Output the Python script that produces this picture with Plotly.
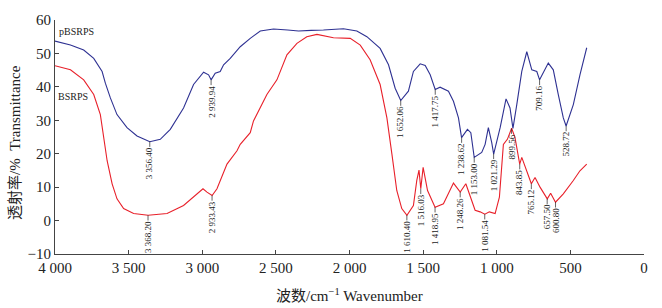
import numpy as np
import plotly.graph_objects as go

# ---- data ----
blue_x = [4000, 3895, 3805, 3737, 3680, 3658, 3624, 3579, 3511, 3443, 3356, 3285, 3217, 3127,
          3059, 2991, 2957, 2940, 2912, 2878, 2855, 2810, 2742, 2674, 2606, 2516, 2420, 2346,
          2260, 2177, 2041, 1950, 1882, 1792, 1735, 1690, 1652, 1600, 1566, 1520, 1486, 1452,
          1418, 1385, 1328, 1294, 1260, 1239, 1199, 1176, 1153, 1102, 1079, 1057, 1034, 1021,
          977, 937, 910, 890, 864, 830, 796, 762, 728, 709, 650, 616, 582, 548, 529, 480, 435, 389]
blue_y = [53.7, 52.5, 51.0, 48.5, 44.6, 41.1, 36.7, 31.7, 27.8, 25.3, 23.6, 24.3, 27.3, 33.7,
          40.7, 44.4, 43.6, 42.1, 44.1, 44.6, 46.6, 48.5, 52.0, 54.5, 56.7, 57.3, 57.0, 56.7,
          56.9, 57.0, 57.4, 56.7, 55.0, 51.5, 46.6, 39.6, 35.9, 38.7, 44.6, 46.9, 46.4, 43.6,
          39.2, 39.9, 38.7, 35.7, 30.7, 24.8, 27.3, 26.3, 18.9, 20.4, 22.8, 27.8, 23.3, 19.9,
          27.8, 36.4, 33.7, 27.6, 34.7, 44.6, 50.5, 45.1, 44.6, 42.1, 47.1, 45.1, 37.7, 30.7, 28.3, 34.7, 43.6, 51.7]

red_x = [4000, 3895, 3805, 3737, 3692, 3669, 3646, 3612, 3579, 3534, 3466, 3368, 3239, 3127,
         3036, 2995, 2968, 2933, 2900, 2832, 2764, 2742, 2674, 2652, 2561, 2493, 2425, 2357,
         2290, 2221, 2109, 1995, 1927, 1860, 1792, 1746, 1712, 1679, 1645, 1610, 1566, 1543,
         1528, 1516, 1500, 1470, 1419, 1362, 1294, 1248, 1210, 1181, 1147, 1113, 1081, 1050,
         1011, 982, 955, 928, 899, 876, 844, 830, 796, 765, 740, 706, 657, 634, 601, 548, 480, 435, 389]
red_y = [46.3, 45.1, 42.1, 37.7, 31.7, 24.8, 17.9, 11.0, 6.5, 3.6, 2.1, 1.6, 2.1, 4.5,
         8.0, 9.5, 8.5, 7.5, 9.5, 16.9, 20.9, 22.8, 26.3, 29.8, 37.7, 42.1, 49.6, 53.0,
         55.0, 55.7, 54.7, 54.5, 52.5, 48.1, 40.7, 30.7, 19.9, 9.0, 3.6, 1.6, 4.5, 12.0,
         15.1, 9.5, 15.9, 9.0, 4.0, 5.0, 11.2, 8.5, 11.0, 7.5, 3.1, 2.6, 1.9, 2.6,
         2.1, 7.0, 22.8, 24.3, 27.6, 24.8, 16.9, 18.9, 14.9, 11.0, 12.9, 10.0, 6.5, 8.2, 5.5, 8.0, 12.0, 14.9, 16.9]

blue_peaks = [3356.40, 2939.94, 1652.06, 1417.75, 1238.62, 1153.00, 1021.29, 709.16, 528.72]
red_peaks = [3368.20, 2933.43, 1610.40, 1516.03, 1418.95, 1248.26, 1081.54, 899.56, 843.85,
             765.12, 657.50, 600.80]

x_ticks = [4000, 3500, 3000, 2500, 2000, 1500, 1000, 500, 0]
x_ticktext = ["4 000", "3 500", "3 000", "2 500", "2 000", "1 500", "1 000", "500", "0"]
y_ticks = [-10, 0, 10, 20, 30, 40, 50, 60]

BLUE = "#2e3192"
RED = "#e8202a"
SERIF = "Liberation Serif, Times New Roman, serif"
CJK = "Liberation Serif, Noto Sans CJK SC, serif"


def fmt(v):
    s = f"{v:.2f}"
    ip, dp = s.split(".")
    if len(ip) > 3:
        ip = ip[:-3] + " " + ip[-3:]
    return ip + "." + dp


def text_len(t, size):
    w = 0
    for ch in t:
        w += 0.25 if ch in " ." else 0.5
    return w * size


fig = go.Figure()
fig.add_trace(go.Scatter(x=blue_x, y=blue_y, mode="lines", line=dict(color=BLUE, width=1.1),
                         showlegend=False, hoverinfo="skip"))
fig.add_trace(go.Scatter(x=red_x, y=red_y, mode="lines", line=dict(color=RED, width=1.1),
                         showlegend=False, hoverinfo="skip"))

LBL = 9
GAP = 4
ann = []
bx_sorted = np.array(blue_x[::-1], dtype=float)
by_sorted = np.array(blue_y[::-1], dtype=float)
rx_sorted = np.array(red_x[::-1], dtype=float)
ry_sorted = np.array(red_y[::-1], dtype=float)
for peaks, xs, ys in ((blue_peaks, bx_sorted, by_sorted), (red_peaks, rx_sorted, ry_sorted)):
    for p in peaks:
        t = fmt(p)
        yv = float(np.interp(p, xs, ys))
        ann.append(dict(x=p, y=yv, xref="x", yref="y", text=t, textangle=-90,
                        showarrow=True, arrowhead=0, arrowwidth=0.7, arrowcolor="#222",
                        ax=0, ay=GAP + text_len(t, LBL) / 2 + 2, axref="pixel", ayref="pixel",
                        font=dict(family=SERIF, size=LBL, color="#222"), borderpad=0))

ann.append(dict(x=4000, y=56.5, xref="x", yref="y", text="pBSRPS", showarrow=False,
                xanchor="left", xshift=2, font=dict(family=SERIF, size=10, color="#222")))
ann.append(dict(x=4000, y=37.2, xref="x", yref="y", text="BSRPS", showarrow=False,
                xanchor="left", xshift=1, font=dict(family=SERIF, size=10, color="#222")))
ann.append(dict(x=0, y=0.5, xref="paper", yref="paper", text="透射率/%\u00a0\u00a0Transmittance",
                textangle=-90, showarrow=False, xanchor="center", yanchor="middle",
                xshift=-40, yshift=-6, font=dict(family=CJK, size=15, color="#222")))
ann.append(dict(x=0.5, y=0, xref="paper", yref="paper", text="波数/cm<sup>−1</sup> Wavenumber",
                showarrow=False, xanchor="center", yanchor="middle",
                yshift=-41, font=dict(family=CJK, size=15, color="#222")))

fig.update_layout(
    width=662, height=308,
    margin=dict(l=55, r=18, t=18, b=54),
    paper_bgcolor="white", plot_bgcolor="white",
    annotations=ann,
    xaxis=dict(range=[4000, 0], tickvals=x_ticks, ticktext=x_ticktext, ticks="inside",
               ticklen=4, tickcolor="#444", showline=True, linecolor="#444", linewidth=1,
               showgrid=False, zeroline=False, tickfont=dict(family=SERIF, size=15, color="#222")),
    yaxis=dict(range=[-10, 60], tickvals=y_ticks, ticks="inside", ticklen=4, tickcolor="#444",
               showline=True, linecolor="#444", linewidth=1, showgrid=False, zeroline=False,
               tickfont=dict(family=SERIF, size=15, color="#222")),
)

fig.write_html("out.html", config={"displayModeBar": False},
               post_script="document.body.style.margin='0';document.body.style.overflow='hidden';")
